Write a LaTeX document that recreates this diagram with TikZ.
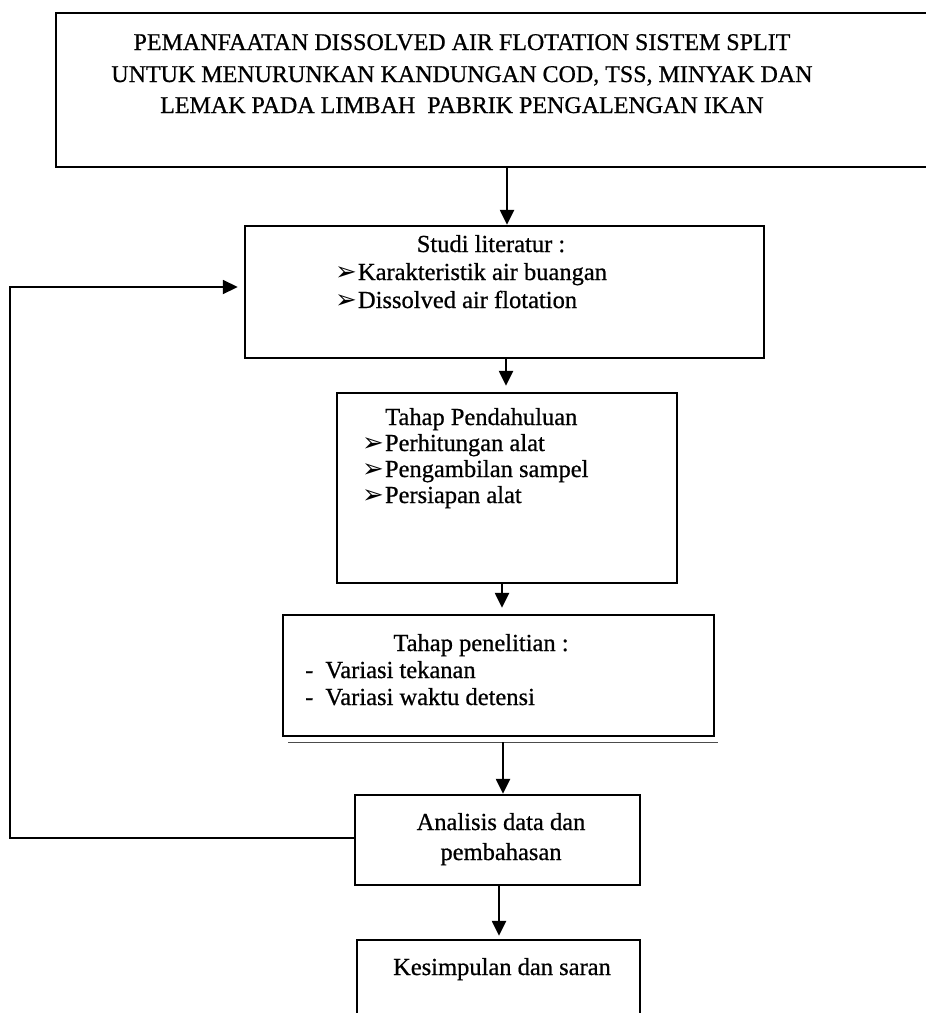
\documentclass[tikz,border=0pt]{standalone}
\usepackage{fontspec}
\setmainfont{Liberation Serif}[FakeBold=0.7]
\newfontfamily\bulfont{DejaVu Sans}
\usetikzlibrary{arrows.meta}
\newcommand{\bul}{{\bulfont\fontsize{26}{26}\selectfont ➢}\hspace{1pt}}
\tikzset{
  box/.style={draw, line width=2.4pt, rectangle, inner sep=0pt},
  txt/.style={inner sep=0pt, font=\fontsize{24.5}{28}\selectfont},
  ttl/.style={inner sep=0pt, font=\fontsize{24}{30}\selectfont},
  arr/.style={line width=2.4pt, -{Triangle[length=15pt,width=14pt]}},
  fbline/.style={line width=1.8pt, -{Triangle[length=15pt,width=14pt]}}
}
\begin{document}
\begin{tikzpicture}[x=1pt,y=-1pt]
\useasboundingbox (0,0) rectangle (926,1013);
% boxes
\node[box, minimum width=884pt, minimum height=154pt] (title) at (498,90) {};
\node[box, minimum width=519pt, minimum height=132pt] (studi) at (504.5,292) {};
\node[box, minimum width=340pt, minimum height=190pt] (pend) at (507,488) {};
\node[box, minimum width=431pt, minimum height=121pt] (pen) at (498.5,675.5) {};
\node[box, minimum width=285pt, minimum height=90pt] (anal) at (497.5,840) {};
\node[box, minimum width=283pt, minimum height=85pt] (kes) at (498.5,982.5) {};
% title text
\node[ttl, anchor=base] (t1) at (462,50) {PEMANFAATAN DISSOLVED AIR FLOTATION SISTEM SPLIT};
\node[ttl, anchor=base] (t2) at (462,82) {UNTUK MENURUNKAN KANDUNGAN COD, TSS, MINYAK DAN};
\node[ttl, anchor=base] (t3) at (462,113) {LEMAK PADA LIMBAH\ \ PABRIK PENGALENGAN IKAN};
% studi
\node[txt, anchor=base] (s0) at (491,252) {Studi literatur :};
\node[txt, anchor=base west] (s1) at (335,280) {\bul Karakteristik air buangan};
\node[txt, anchor=base west] (s2) at (335,308) {\bul Dissolved air flotation};
% pendahuluan
\node[txt, anchor=base west] (p0) at (385,425) {Tahap Pendahuluan};
\node[txt, anchor=base west] (p1) at (362,451) {\bul Perhitungan alat};
\node[txt, anchor=base west] (p2) at (362,477) {\bul Pengambilan sampel};
\node[txt, anchor=base west] (p3) at (362,503) {\bul Persiapan alat};
% penelitian
\node[txt, anchor=base] (n0) at (481,651) {Tahap penelitian :};
\node[txt, anchor=base west] (n1) at (305,678) {-\hspace{12pt}Variasi tekanan};
\node[txt, anchor=base west] (n2) at (305,705) {-\hspace{12pt}Variasi waktu detensi};
\coordinate (dl1) at (288,742);
\coordinate (dl2) at (718,742);
\draw[line width=0.9pt, black!70] (dl1) -- (dl2);
% analisis
\node[txt, anchor=base] (a1) at (501,830) {Analisis data dan};
\node[txt, anchor=base] (a2) at (501,860) {pembahasan};
% kesimpulan
\node[txt, anchor=base] (k1) at (502,975) {Kesimpulan dan saran};
% arrows
\coordinate (x1) at (507,0);
\coordinate (x2) at (506,0);
\coordinate (x3) at (502,0);
\coordinate (x4) at (503,0);
\coordinate (x5) at (499,0);
\draw[arr] (title.south -| x1) -- (studi.north -| x1);
\draw[arr, shorten >=6pt] (studi.south -| x2) -- (pend.north -| x2);
\draw[arr, shorten >=6pt] (pend.south -| x3) -- (pen.north -| x3);
\draw[arr] (dl1 -| x4) -- (anal.north -| x4);
\draw[arr, shorten >=3pt] (anal.south -| x5) -- (kes.north -| x5);
% feedback
\coordinate (fb) at (10,0);
\draw[fbline, shorten >=6pt] ([yshift=2pt]anal.west) -- ([yshift=2pt]anal.west -| fb) -- ([yshift=5pt]studi.west -| fb) -- ([yshift=5pt]studi.west);
\end{tikzpicture}
\end{document}
